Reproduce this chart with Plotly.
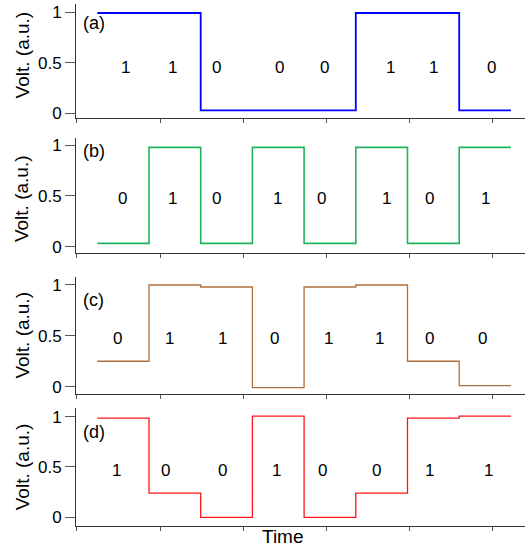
import plotly.graph_objects as go

# ---- data ----
panels = ["(a)", "(b)", "(c)", "(d)"]
bits_a = ["1", "1", "0", "0", "0", "1", "1", "0"]
bits_b = ["0", "1", "0", "1", "0", "1", "0", "1"]
bits_c = ["0", "1", "1", "0", "1", "1", "0", "0"]
bits_d = ["1", "0", "0", "1", "0", "0", "1", "1"]
volt_a = [0.995, 0.995, 0.03, 0.03, 0.03, 0.995, 0.995, 0.03]
volt_b = [0.033, 0.977, 0.033, 0.977, 0.033, 0.977, 0.033, 0.977]
volt_c = [0.25, 1.0, 0.98, -0.01, 0.98, 1.0, 0.25, 0.01]
volt_d = [0.985, 0.24, 0.0, 1.005, 0.0, 0.24, 0.985, 1.005]
y_ticks = [0, 0.5, 1]
y_tick_text = ["0", "0.5", "1"]

bits = [bits_a, bits_b, bits_c, bits_d]
volts = [volt_a, volt_b, volt_c, volt_d]
colors = ["#0000ff", "#1fb35c", "#b06e3a", "#ff1414"]
widths = [1.8, 1.6, 1.3, 1.3]

# layout tweaks (pixels / domains)
domains = [[0.7816, 1.0], [0.5224, 0.7439], [0.2523, 0.4776], [0.0, 0.2255]]
yranges = [[-0.0466, 1.0843], [-0.065, 1.072], [-0.0747, 1.0816], [-0.0865, 1.0835]]
label_y = [0.45, 0.47, 0.47, 0.47]
panel_y = [0.90, 0.94, 0.85, 0.85]
nudges = [[2, -2, -10, 1, -5, 9, 0, 6],
          [-1, -2, -10, -1, -8, 5, -4, 0],
          [-6, -5, -4, -4, -1, -2, -4, -3],
          [-7, -9, -4, -2, -7, -5, -4, 3]]
volt_title_y = [0.55, 0.47, 0.5, 0.5]

FONT = "Liberation Sans, Arial, sans-serif"

fig = go.Figure()
annotations = []
for i in range(4):
    n = len(volts[i])
    xs = list(range(n + 1))
    ys = volts[i] + [volts[i][-1]]
    xa = "x" if i == 0 else f"x{i+1}"
    ya = "y" if i == 0 else f"y{i+1}"
    fig.add_trace(go.Scatter(x=xs, y=ys, mode="lines", line_shape="hv",
                             line=dict(color=colors[i], width=widths[i]),
                             xaxis=xa, yaxis=ya, showlegend=False,
                             hoverinfo="skip"))
    for k, b in enumerate(bits[i]):
        annotations.append(dict(x=k + 0.5, y=label_y[i], xref=xa, yref=ya,
                                text=b, showarrow=False, xshift=nudges[i][k],
                                font=dict(family=FONT, size=17, color="black")))
    annotations.append(dict(x=-0.32, y=panel_y[i], xref=xa, yref=ya,
                            text=panels[i], showarrow=False, xanchor="left",
                            font=dict(family=FONT, size=18, color="black")))
    annotations.append(dict(x=-0.12, y=volt_title_y[i], xref="paper",
                            yref=f"{ya} domain", text="Volt. (a.u.)",
                            textangle=-90, showarrow=False,
                            xanchor="center", yanchor="middle",
                            font=dict(family=FONT, size=19, color="black")))

annotations.append(dict(x=0.46, y=-0.021, xref="paper", yref="paper",
                        text="Time", showarrow=False, yanchor="middle",
                        xanchor="center",
                        font=dict(family=FONT, size=19, color="black")))

layout = dict(width=530, height=551, template="none",
              margin=dict(l=76, r=5, t=4, b=25, autoexpand=False),
              plot_bgcolor="white", paper_bgcolor="white",
              annotations=annotations, showlegend=False)
for i in range(4):
    xname = "xaxis" if i == 0 else f"xaxis{i+1}"
    yname = "yaxis" if i == 0 else f"yaxis{i+1}"
    ya = "y" if i == 0 else f"y{i+1}"
    xa = "x" if i == 0 else f"x{i+1}"
    layout[xname] = dict(domain=[0, 1], anchor=ya, range=[-0.412, 8.273],
                         tick0=1.213, dtick=1.61, ticks="outside", ticklen=4,
                         tickcolor="#555", showticklabels=False,
                         showline=True, linecolor="#333", linewidth=1,
                         showgrid=False, zeroline=False, automargin=False)
    layout[yname] = dict(domain=domains[i], anchor=xa, range=yranges[i],
                         tickvals=y_ticks, ticktext=y_tick_text,
                         ticks="outside", ticklen=10, tickcolor="#555",
                         showline=True, linecolor="#333", linewidth=1,
                         showgrid=False, zeroline=False, automargin=False,
                         tickfont=dict(family=FONT, size=17, color="black"))
fig.update_layout(**layout)
fig.write_html("out.html", config={"displayModeBar": False},
               post_script="document.body.style.margin='0';document.body.style.overflow='hidden';")
